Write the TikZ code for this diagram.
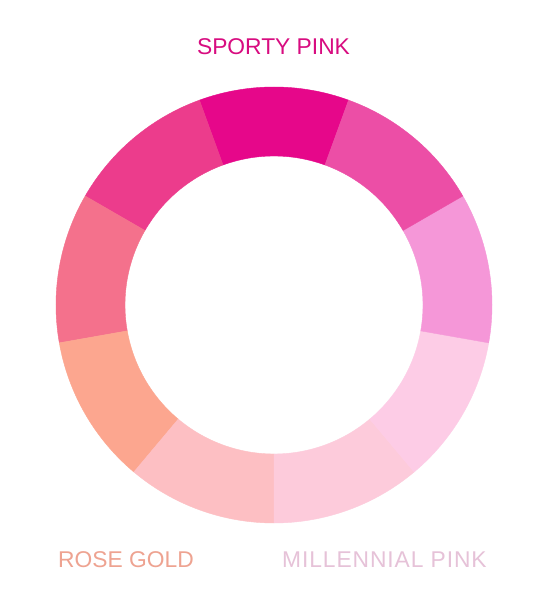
\documentclass[tikz,border=0pt]{standalone}
\usepackage{fontspec}
\setmainfont{Liberation Sans}
\definecolor{cA}{HTML}{E6078A}
\definecolor{cB}{HTML}{EC3C8C}
\definecolor{cC}{HTML}{F4718C}
\definecolor{cD}{HTML}{FCA68F}
\definecolor{cE}{HTML}{FDBFC3}
\definecolor{cF}{HTML}{FDCBDB}
\definecolor{cG}{HTML}{FDCCE6}
\definecolor{cH}{HTML}{F597D8}
\definecolor{cI}{HTML}{EC4EA6}
\definecolor{tSporty}{HTML}{D80C80}
\definecolor{tRose}{HTML}{EEA391}
\definecolor{tMill}{HTML}{E6C2D8}
\tikzset{
  label text/.style={inner sep=0pt, font=\fontsize{22.8}{26}\selectfont},
  seg/.style={fill=#1, draw=#1, line width=0.4pt, line join=round}
}
\newcommand{\ringseg}[3]{%
  \filldraw[seg=#3, shift={(274,301)}] (#1:218) arc[start angle=#1, end angle=#2, radius=218]
    -- (#2:149) arc[start angle=#2, end angle=#1, radius=149] -- cycle;}
\begin{document}
\begin{tikzpicture}[x=1pt,y=1pt]
\useasboundingbox (0,0) rectangle (550,606);
\fill[white] (0,0) rectangle (550,606);
\ringseg{70}{110}{cA}
\ringseg{110}{150}{cB}
\ringseg{150}{190}{cC}
\ringseg{190}{230}{cD}
\ringseg{230}{270}{cE}
\ringseg{270}{310}{cF}
\ringseg{310}{350}{cG}
\ringseg{-10}{30}{cH}
\ringseg{30}{70}{cI}
\node[label text, text=tSporty, anchor=base] (sporty) at (273.5,551) {SPORTY PINK};
\node[label text, text=tRose, anchor=base west] (rose) at (58,38) {ROSE GOLD};
\node[label text, text=tMill, anchor=base west] (mill) at (282,38) {\addfontfeatures{LetterSpace=4}MILLENNIAL PINK};
\end{tikzpicture}
\end{document}
